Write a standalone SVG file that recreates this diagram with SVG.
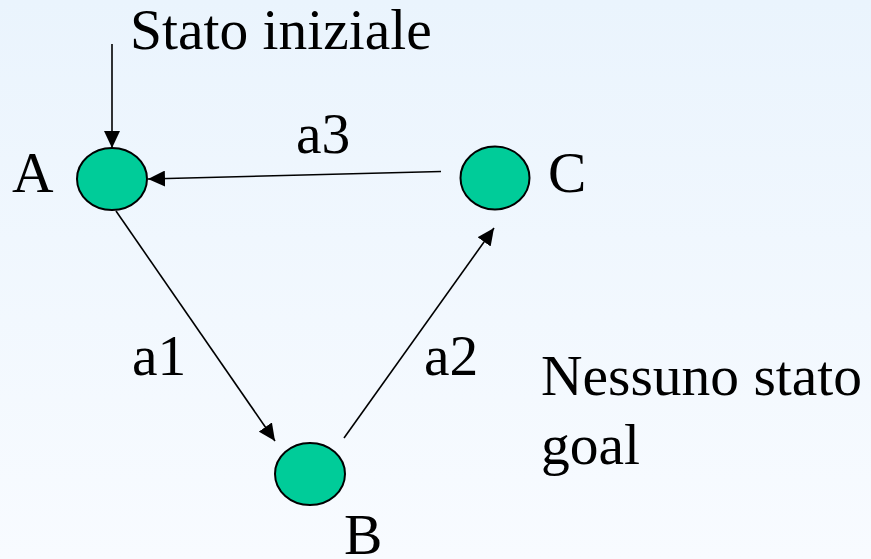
<svg xmlns="http://www.w3.org/2000/svg" width="871" height="559" viewBox="0 0 871 559">
<defs>
<linearGradient id="bg" x1="0" y1="0" x2="0" y2="1">
<stop offset="0" stop-color="#eaf4fd"/>
<stop offset="1" stop-color="#f8fbff"/>
</linearGradient>
<marker id="arr" markerUnits="userSpaceOnUse" markerWidth="18" markerHeight="16" viewBox="0 0 18 16" refX="17" refY="8" orient="auto">
<path d="M0,0 L17,8 L0,16 Z" fill="#000"/>
</marker>
</defs>
<style>
.node{fill:#00cc99;stroke:#000;stroke-width:2}
.edge{stroke:#000;stroke-width:1.6;fill:none;marker-end:url(#arr)}
text{font-family:"Liberation Serif","Times New Roman",serif;font-size:57.5px;fill:#000}
</style>
<rect width="871" height="559" fill="url(#bg)"/>
<g id="connectors">
<line class="edge" x1="112" y1="44" x2="112" y2="148"/>
<line class="edge" x1="441" y1="171.5" x2="148" y2="179"/>
<line class="edge" x1="116" y1="211" x2="275" y2="441"/>
<line class="edge" x1="344" y1="438" x2="494" y2="228"/>
</g>
<g id="node-A">
<ellipse class="node" cx="112" cy="179" rx="35" ry="31"/>
<text x="12" y="192">A</text>
</g>
<g id="node-C">
<ellipse class="node" cx="495" cy="178" rx="34.5" ry="31.5"/>
<text x="548" y="192">C</text>
</g>
<g id="node-B">
<ellipse class="node" cx="310" cy="474" rx="35" ry="31"/>
<text x="344" y="554">B</text>
</g>
<g id="labels">
<text x="130" y="49">Stato iniziale</text>
<text x="296" y="153">a3</text>
<text x="132" y="375">a1</text>
<text x="424" y="375">a2</text>
<text x="541" y="395">Nessuno stato</text>
<text x="541" y="464">goal</text>
</g>
</svg>
